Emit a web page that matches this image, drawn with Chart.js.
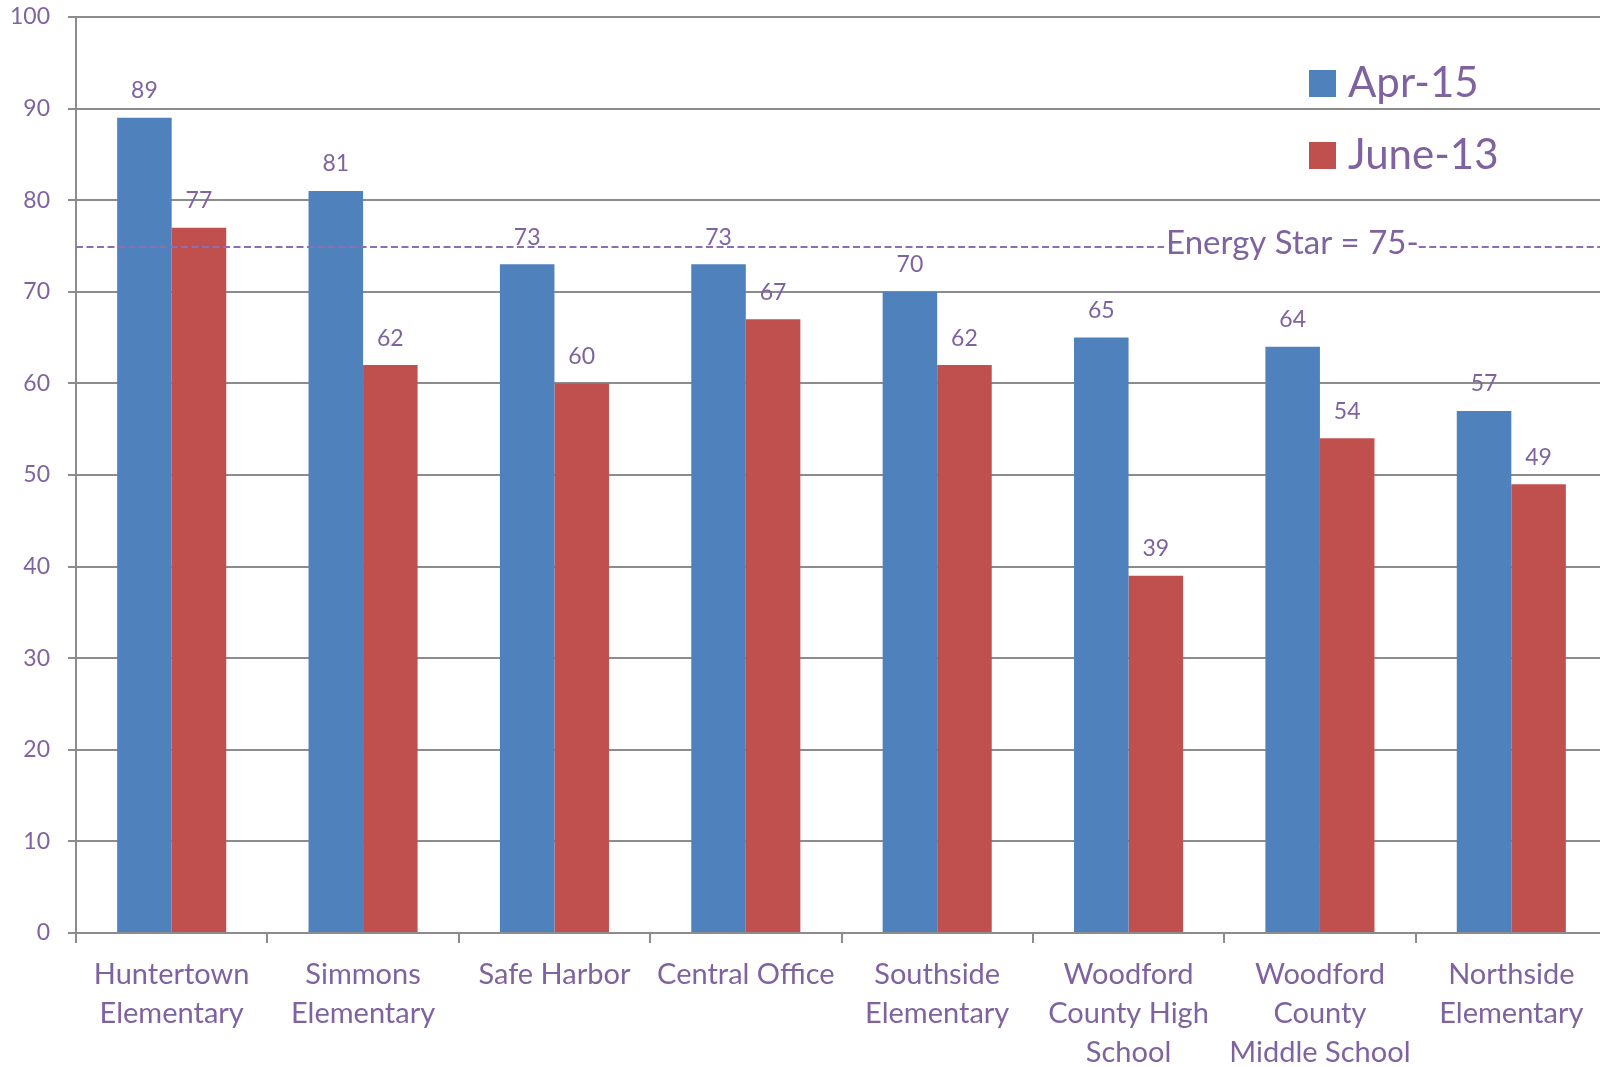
<!DOCTYPE html>
<html>
<head>
<meta charset="utf-8">
<title>Energy Star Scores</title>
<script src="https://cdn.jsdelivr.net/npm/chart.js@4.4.0/dist/chart.umd.min.js"></script>
<style>
  html, body { margin: 0; padding: 0; background: #fff; overflow: hidden; }
  #wrap { width: 1600px; height: 1067px; overflow: hidden; }
</style>
</head>
<body>
<div id="wrap"><canvas id="scoreChart" width="1607" height="1067"></canvas></div>
<script>
// ==================== DATA ====================
const categories = [
  ['Huntertown', 'Elementary'],
  ['Simmons', 'Elementary'],
  ['Safe Harbor'],
  ['Central Office'],
  ['Southside', 'Elementary'],
  ['Woodford', 'County High', 'School'],
  ['Woodford', 'County', 'Middle School'],
  ['Northside', 'Elementary']
];
const seriesNames = ['Apr-15', 'June-13'];
const apr15 = [89, 81, 73, 73, 70, 65, 64, 57];
const june13 = [77, 62, 60, 67, 62, 39, 54, 49];
const yMin = 0;
const yMax = 100;
const yStep = 10;
const energyStar = 75;
const energyStarText = 'Energy Star = 75-';

// ==================== STYLE ====================
const PURPLE = '#7f63a1';
const DASH = '#8b6fb3';
const GRID = '#8c8c8c';
const BLUE = '#4f81bd';
const RED = '#c0504d';
const FONT = 'Lato, "Open Sans", sans-serif';

// value labels above each bar
const valueLabels = {
  id: 'valueLabels',
  afterDatasetsDraw(chart) {
    const ctx = chart.ctx;
    ctx.save();
    ctx.font = '23px ' + FONT;
    ctx.fillStyle = PURPLE;
    ctx.textAlign = 'center';
    ctx.textBaseline = 'middle';
    chart.data.datasets.forEach((ds, i) => {
      chart.getDatasetMeta(i).data.forEach((bar, j) => {
        ctx.fillText(String(ds.data[j]), bar.x, bar.y - 27);
      });
    });
    ctx.restore();
  }
};

// dashed Energy Star reference line with its caption
const energyStarLine = {
  id: 'energyStarLine',
  afterDatasetsDraw(chart) {
    const ctx = chart.ctx;
    const area = chart.chartArea;
    const y = chart.scales.y.getPixelForValue(energyStar) + 1;
    ctx.save();
    ctx.font = '33px ' + FONT;
    const textX = area.left + (area.right - area.left) * 0.712;
    const textW = ctx.measureText(energyStarText).width;
    ctx.strokeStyle = DASH;
    ctx.lineWidth = 2;
    ctx.setLineDash([7, 3.5]);
    ctx.beginPath();
    ctx.moveTo(area.left, y);
    ctx.lineTo(textX - 2, y);
    ctx.moveTo(textX + textW, y);
    ctx.lineTo(area.right, y);
    ctx.stroke();
    ctx.setLineDash([]);
    ctx.fillStyle = PURPLE;
    ctx.textAlign = 'left';
    ctx.textBaseline = 'middle';
    ctx.fillText(energyStarText, textX, y - 4);
    ctx.restore();
  }
};

// vertical legend in the upper right of the plot
const cornerLegend = {
  id: 'cornerLegend',
  afterDraw(chart) {
    const ctx = chart.ctx;
    const area = chart.chartArea;
    const boxX = area.right - 298;
    ctx.save();
    ctx.font = '42px ' + FONT;
    ctx.textBaseline = 'middle';
    chart.data.datasets.forEach((ds, i) => {
      const top = area.top + 53 + i * 72;
      ctx.fillStyle = ds.backgroundColor;
      ctx.fillRect(boxX, top, 27, 27);
      ctx.fillStyle = PURPLE;
      ctx.fillText(ds.label, boxX + 39, top + 13);
    });
    ctx.restore();
  }
};

const chart = new Chart(document.getElementById('scoreChart'), {
  type: 'bar',
  data: {
    labels: categories,
    datasets: [
      { label: seriesNames[0], data: apr15, backgroundColor: BLUE, borderWidth: 0 },
      { label: seriesNames[1], data: june13, backgroundColor: RED, borderWidth: 0 }
    ]
  },
  options: {
    responsive: false,
    animation: false,
    datasets: { bar: { categoryPercentage: 0.57, barPercentage: 1.0 } },
    layout: { padding: { top: 17, right: 0, left: 0, bottom: 0 } },
    plugins: {
      legend: { display: false },
      tooltip: { enabled: false }
    },
    scales: {
      x: {
        ticks: {
          color: PURPLE,
          font: { family: FONT, size: 29, lineHeight: 1.34 },
          padding: 12,
          maxRotation: 0,
          autoSkip: false
        },
        grid: { drawOnChartArea: false, color: GRID, lineWidth: 2, tickLength: 10, offset: true },
        border: { color: GRID, width: 2 },
        afterFit: (s) => { s.height = 134; s.paddingTop = 0; s.paddingBottom = 0; }
      },
      y: {
        min: yMin,
        max: yMax,
        ticks: {
          stepSize: yStep,
          color: PURPLE,
          font: { family: FONT, size: 23 },
          padding: 18
        },
        grid: { color: GRID, lineWidth: 2, tickLength: 8 },
        border: { color: GRID, width: 2 },
        afterFit: (s) => { s.width = 76; s.paddingTop = 0; s.paddingBottom = 0; }
      }
    }
  },
  plugins: [valueLabels, energyStarLine, cornerLegend]
});
</script>
</body>
</html>
